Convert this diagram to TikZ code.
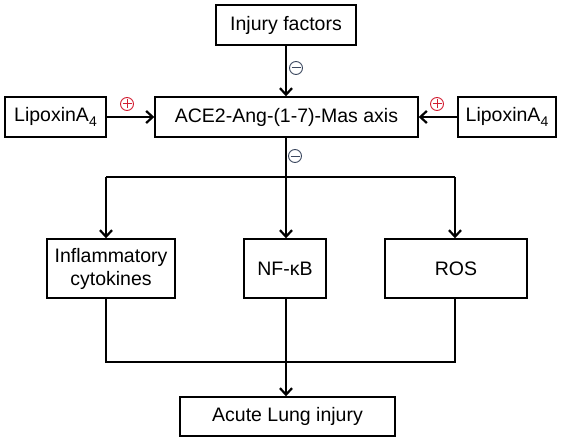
\documentclass[tikz,border=0pt]{standalone}
\usepackage{fontspec}
\setmainfont{Liberation Sans}
\usetikzlibrary{arrows.meta, positioning}

\definecolor{negcolor}{RGB}{60,72,95}
\definecolor{poscolor}{RGB}{210,30,50}
\newcommand{\subfour}{\raisebox{-0.45ex}{\fontsize{14}{14}\selectfont 4}}

\tikzset{
    fbox/.style={draw, line width=1.4pt, minimum height=40pt, align=center, inner sep=2pt, font=\fontsize{19.5}{23}\selectfont},
    link/.style={line width=2.8pt},
    linkarrow/.style={link, -{Straight Barb[length=6.5pt, width=12pt, line width=2.2pt]}},
    signbase/.style={circle, draw, line width=0.9pt, minimum size=13pt, inner sep=0pt},
    negsign/.style={signbase, draw=negcolor, path picture={
        \draw[negcolor, line width=1pt] ([xshift=-4.5pt]path picture bounding box.center) -- ([xshift=4.5pt]path picture bounding box.center);}},
    possign/.style={signbase, draw=poscolor, path picture={
        \draw[poscolor, line width=1pt] ([xshift=-4.5pt]path picture bounding box.center) -- ([xshift=4.5pt]path picture bounding box.center)
            ([yshift=-4.5pt]path picture bounding box.center) -- ([yshift=4.5pt]path picture bounding box.center);}}
}

\begin{document}
\begin{tikzpicture}[x=1pt, y=-1pt]
    \useasboundingbox (0,0) rectangle (562,441);

    % Boxes
    \node[fbox, minimum width=140pt] (injury) at (286,25) {Injury factors};
    \node[fbox, minimum width=263pt] (axis) at (286.5,117) {ACE2-Ang-(1-7)-Mas axis};
    \node[fbox, minimum width=101pt] (lipL) at (55.5,117) {LipoxinA\subfour};
    \node[fbox, minimum width=98pt] (lipR) at (507,117) {LipoxinA\subfour};
    \node[fbox, minimum width=128pt, minimum height=59pt] (infl) at (111,268.5) {Inflammatory\\cytokines};
    \node[fbox, minimum width=82pt, minimum height=59pt] (nfkb) at (285,268.5) {NF-κB};
    \node[fbox, minimum width=142pt, minimum height=59pt] (ros) at (456,268.5) {ROS};
    \node[fbox, minimum width=215pt, minimum height=39pt] (acute) at (287.5,416.5) {Acute Lung injury};

    % Inputs to the axis
    \draw[linkarrow] (injury.south) -- (injury.south |- axis.north);
    \draw[linkarrow] (lipL.east) -- (axis.west);
    \draw[linkarrow] (lipR.west) -- (axis.east);
    \node[negsign] (negA) at (296,68) {};
    \node[possign] (posL) at (127,104) {};
    \node[possign] (posR) at (437,104) {};

    % Branching to the three effects
    \coordinate (brL) at (106,177);
    \coordinate (brR) at (455,177);
    \draw[link] (brL) -- (brR);
    \draw[linkarrow] (injury.south |- axis.south) -- (injury.south |- nfkb.north);
    \draw[linkarrow] (brL) -- (brL |- infl.north);
    \draw[linkarrow] (brR) -- (brR |- ros.north);
    \node[negsign] (negB) at (295,156) {};

    % Joining to the outcome
    \coordinate (jnL) at (106,362);
    \draw[link] (brL |- infl.south) -- (jnL) -| (brR |- ros.south);
    \draw[linkarrow] (injury.south |- nfkb.south) -- (injury.south |- acute.north);
\end{tikzpicture}
\end{document}
